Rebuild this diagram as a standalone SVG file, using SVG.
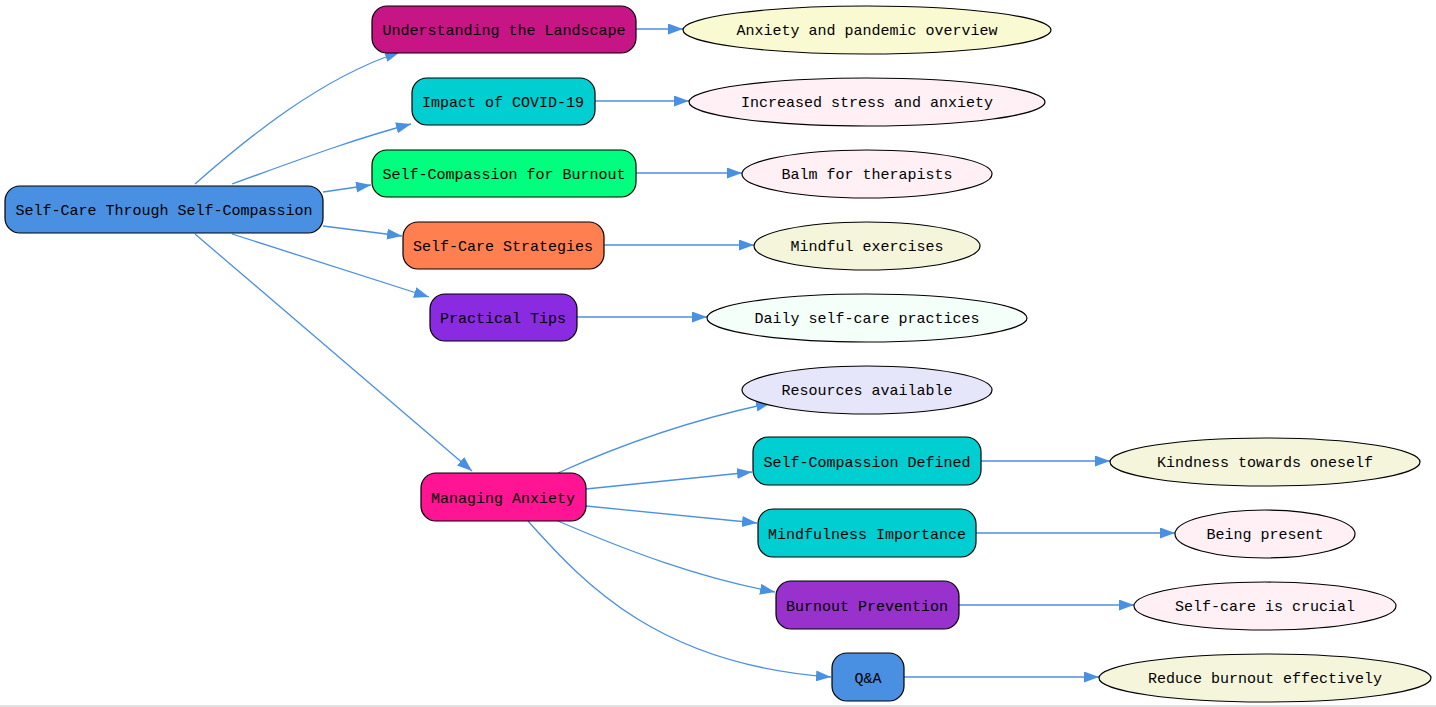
<svg xmlns="http://www.w3.org/2000/svg" width="1436" height="707" viewBox="0 0 1436 707">
<style>
.box{stroke:#000;stroke-width:1.2}
.ell{stroke:#000;stroke-width:1.2}
.lbl{font-family:"Liberation Mono","DejaVu Sans Mono",monospace;font-size:15px;fill:#000;text-anchor:middle;dominant-baseline:central}
.edge{fill:none;stroke:#4A90E2;stroke-width:1.3;marker-end:url(#arr)}
</style>
<defs>
<marker id="arr" markerUnits="userSpaceOnUse" markerWidth="16" markerHeight="12" refX="15" refY="5.5" orient="auto">
<path d="M0,0 L15,5.5 L0,11 Z" fill="#4A90E2"/>
</marker>
</defs>
<rect width="1436" height="707" fill="#fff"/>
<line x1="0" y1="706" x2="1436" y2="706" stroke="#d8d8d8" stroke-width="1.5"/>
<g id="connectors">
<path class="edge" d="M195,184 C245,140 320,78 400,52"/>
<path class="edge" d="M232,184 C285,165 350,140 411,124"/>
<path class="edge" d="M323,192 L371,185"/>
<path class="edge" d="M323,226 L402,236"/>
<path class="edge" d="M232,234 L429,297"/>
<path class="edge" d="M195,234 L472,471"/>
<path class="edge" d="M558,473 C620,445 690,420 771,403"/>
<path class="edge" d="M586,489 L752,472"/>
<path class="edge" d="M586,506 L757,523"/>
<path class="edge" d="M558,521 C630,552 700,578 775,592"/>
<path class="edge" d="M528,521 C585,585 660,665 831,677"/>
<path class="edge" d="M636,29 L683,29"/>
<path class="edge" d="M595,101 L689,101"/>
<path class="edge" d="M636,173 L742,173"/>
<path class="edge" d="M604,245 L754,245"/>
<path class="edge" d="M577,317 L707,317"/>
<path class="edge" d="M981,461 L1110,461"/>
<path class="edge" d="M976,533 L1175,533"/>
<path class="edge" d="M959,605 L1134,605"/>
<path class="edge" d="M904,677 L1099,677"/>
</g>
<g id="root"><rect class="box" x="5" y="186" width="318" height="47" rx="15" fill="#4A90E2"/><text class="lbl" x="164" y="211">Self-Care Through Self-Compassion</text></g>
<g id="understanding"><rect class="box" x="372" y="6" width="264" height="47" rx="15" fill="#C71585"/><text class="lbl" x="504" y="31">Understanding the Landscape</text></g>
<g id="impact"><rect class="box" x="412" y="78" width="183" height="47" rx="15" fill="#00CED1"/><text class="lbl" x="503" y="103">Impact of COVID-19</text></g>
<g id="selfcompassion"><rect class="box" x="372" y="150" width="264" height="47" rx="15" fill="#00FF7F"/><text class="lbl" x="504" y="175">Self-Compassion for Burnout</text></g>
<g id="strategies"><rect class="box" x="403" y="222" width="201" height="47" rx="15" fill="#FF7F50"/><text class="lbl" x="503" y="247">Self-Care Strategies</text></g>
<g id="tips"><rect class="box" x="430" y="294" width="147" height="47" rx="15" fill="#8A2BE2"/><text class="lbl" x="503" y="319">Practical Tips</text></g>
<g id="managing"><rect class="box" x="421" y="473" width="165" height="48" rx="15" fill="#FF1493"/><text class="lbl" x="503" y="499">Managing Anxiety</text></g>
<g id="scdefined"><rect class="box" x="753" y="437" width="228" height="48" rx="15" fill="#00CED1"/><text class="lbl" x="867" y="463">Self-Compassion Defined</text></g>
<g id="mindfulness"><rect class="box" x="758" y="509" width="218" height="48" rx="15" fill="#00CED1"/><text class="lbl" x="867" y="535">Mindfulness Importance</text></g>
<g id="burnout"><rect class="box" x="776" y="581" width="183" height="48" rx="15" fill="#9932CC"/><text class="lbl" x="867" y="607">Burnout Prevention</text></g>
<g id="qa"><rect class="box" x="832" y="653" width="72" height="48" rx="15" fill="#4A90E2"/><text class="lbl" x="868" y="679">Q&amp;A</text></g>
<g id="e-overview"><ellipse class="ell" cx="867" cy="30" rx="184" ry="24" fill="#FAFAD2"/><text class="lbl" x="867" y="31">Anxiety and pandemic overview</text></g>
<g id="e-stress"><ellipse class="ell" cx="867" cy="102" rx="178" ry="24" fill="#FFF0F5"/><text class="lbl" x="867" y="103">Increased stress and anxiety</text></g>
<g id="e-balm"><ellipse class="ell" cx="867" cy="174" rx="125" ry="24" fill="#FFF0F5"/><text class="lbl" x="867" y="175">Balm for therapists</text></g>
<g id="e-mindful"><ellipse class="ell" cx="867" cy="246" rx="113" ry="24" fill="#F5F5DC"/><text class="lbl" x="867" y="247">Mindful exercises</text></g>
<g id="e-daily"><ellipse class="ell" cx="867" cy="318" rx="160" ry="24" fill="#F5FFFA"/><text class="lbl" x="867" y="319">Daily self-care practices</text></g>
<g id="e-resources"><ellipse class="ell" cx="867" cy="390" rx="125" ry="24" fill="#E6E6FA"/><text class="lbl" x="867" y="391">Resources available</text></g>
<g id="e-kindness"><ellipse class="ell" cx="1265" cy="462" rx="155" ry="24" fill="#F5F5DC"/><text class="lbl" x="1265" y="463">Kindness towards oneself</text></g>
<g id="e-present"><ellipse class="ell" cx="1265" cy="534" rx="90" ry="24" fill="#FFF0F5"/><text class="lbl" x="1265" y="535">Being present</text></g>
<g id="e-crucial"><ellipse class="ell" cx="1265" cy="606" rx="131" ry="24" fill="#FFF0F5"/><text class="lbl" x="1265" y="607">Self-care is crucial</text></g>
<g id="e-reduce"><ellipse class="ell" cx="1265" cy="678" rx="166" ry="24" fill="#F5F5DC"/><text class="lbl" x="1265" y="679">Reduce burnout effectively</text></g>
</svg>
